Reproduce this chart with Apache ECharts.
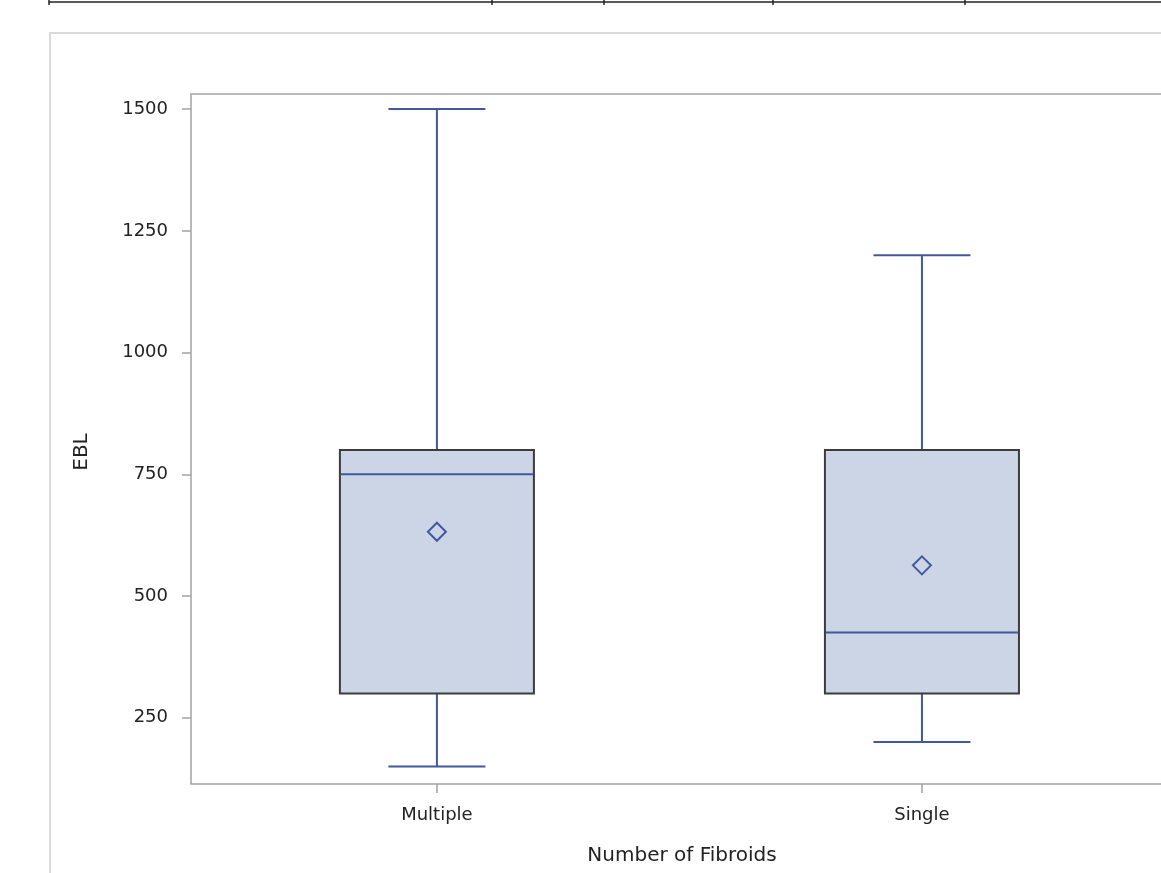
<!DOCTYPE html>
<html>
<head>
<meta charset="utf-8">
<script src="https://cdn.jsdelivr.net/npm/echarts@6/dist/echarts.min.js"></script>
<style>
  html, body { margin: 0; padding: 0; background: #ffffff; }
  #chart { width: 1161px; height: 873px; }
</style>
</head>
<body>
<div id="chart"></div>
<script>
// EBL by number of fibroids: box-plot summary statistics
const categories = ['Multiple', 'Single'];
const whiskerLow = [150, 200];
const q1 = [300, 300];
const median = [750, 425];
const q3 = [800, 800];
const whiskerHigh = [1500, 1200];
const means = [632, 563];
const yTicks = [250, 500, 750, 1000, 1250, 1500];

const FONT = 'DejaVu Sans';
const LINE_BLUE = '#41589e';
const BOX_FILL = '#cbd5e5';
const BOX_EDGE = '#3c3c3c';
const AXIS_GRAY = '#a3a3a3';

const boxData = categories.map((c, i) =>
  [i, whiskerLow[i], q1[i], median[i], q3[i], whiskerHigh[i], means[i]]);

function renderBox(params, api) {
  const i = api.value(0);
  const lo = api.value(1), a = api.value(2), m = api.value(3);
  const b = api.value(4), hi = api.value(5), mean = api.value(6);
  const cx = api.coord([i, m])[0];
  const y = v => api.coord([i, v])[1];
  const halfBox = api.size([0.2, 0])[0];
  const halfCap = api.size([0.1, 0])[0];
  const lineStyle = { stroke: LINE_BLUE, lineWidth: 2, fill: null };
  const d = 9;
  const ym = y(mean);
  return {
    type: 'group',
    children: [
      { type: 'line', shape: { x1: cx, y1: y(b), x2: cx, y2: y(hi) }, style: lineStyle },
      { type: 'line', shape: { x1: cx, y1: y(a), x2: cx, y2: y(lo) }, style: lineStyle },
      { type: 'line', shape: { x1: cx - halfCap, y1: y(hi), x2: cx + halfCap, y2: y(hi) }, style: lineStyle },
      { type: 'line', shape: { x1: cx - halfCap, y1: y(lo), x2: cx + halfCap, y2: y(lo) }, style: lineStyle },
      { type: 'rect', shape: { x: cx - halfBox, y: y(b), width: 2 * halfBox, height: y(a) - y(b) },
        style: { fill: BOX_FILL, stroke: BOX_EDGE, lineWidth: 2 } },
      { type: 'line', shape: { x1: cx - halfBox + 1, y1: y(m), x2: cx + halfBox - 1, y2: y(m) }, style: lineStyle },
      { type: 'polygon', shape: { points: [[cx, ym - d], [cx + d, ym], [cx, ym + d], [cx - d, ym]] },
        style: { fill: null, stroke: LINE_BLUE, lineWidth: 2 } }
    ]
  };
}

const chart = echarts.init(document.getElementById('chart'), null, { renderer: 'canvas' });

const tableTicks = [49, 492, 604, 773, 965];

chart.setOption({
  animation: false,
  backgroundColor: '#ffffff',
  textStyle: { fontFamily: FONT },
  grid: {
    left: 191, top: 94, width: 972, height: 690,
    outerBoundsMode: 'none', containLabel: false,
    show: true, borderColor: AXIS_GRAY, borderWidth: 1.5, backgroundColor: 'transparent'
  },
  xAxis: {
    type: 'value',
    min: -0.507, max: 1.497,
    axisLine: { show: false, onZero: false },
    splitLine: { show: false },
    axisTick: { show: true, length: 9, customValues: [0, 1], lineStyle: { color: AXIS_GRAY, width: 1.5 } },
    axisLabel: {
      customValues: [0, 1],
      formatter: v => categories[Math.round(v)],
      margin: 22, fontSize: 18, color: '#222', fontFamily: FONT
    }
  },
  yAxis: {
    type: 'value',
    min: 114, max: 1531,
    axisLine: { show: false, onZero: false },
    splitLine: { show: false },
    axisTick: { show: true, length: 9, customValues: yTicks, lineStyle: { color: AXIS_GRAY, width: 1.5 } },
    axisLabel: {
      customValues: yTicks,
      formatter: v => String(v),
      margin: 23, fontSize: 18, color: '#222', fontFamily: FONT
    }
  },
  graphic: [
    // outer panel frame
    { type: 'rect', z: -10, shape: { x: 50, y: 33, width: 1200, height: 900 },
      style: { fill: '#ffffff', stroke: '#dadada', lineWidth: 2 } },
    // table rule above the graph
    { type: 'line', shape: { x1: 49, y1: 2, x2: 1161, y2: 2 }, style: { stroke: '#222', lineWidth: 1.5 } },
    ...tableTicks.map(x => ({ type: 'line', shape: { x1: x, y1: 0, x2: x, y2: 5 }, style: { stroke: '#222', lineWidth: 1.5 } })),
    // axis titles
    { type: 'text', x: 82, y: 452, rotation: Math.PI / 2,
      style: { text: 'EBL', fontSize: 20, fontFamily: FONT, fill: '#222', align: 'center', verticalAlign: 'middle' } },
    { type: 'text', x: 682, y: 856,
      style: { text: 'Number of Fibroids', fontSize: 20, fontFamily: FONT, fill: '#222', align: 'center', verticalAlign: 'middle' } }
  ],
  series: [{
    type: 'custom',
    renderItem: renderBox,
    encode: { x: 0, y: [1, 2, 3, 4, 5] },
    data: boxData,
    clip: false
  }]
});
</script>
</body>
</html>
